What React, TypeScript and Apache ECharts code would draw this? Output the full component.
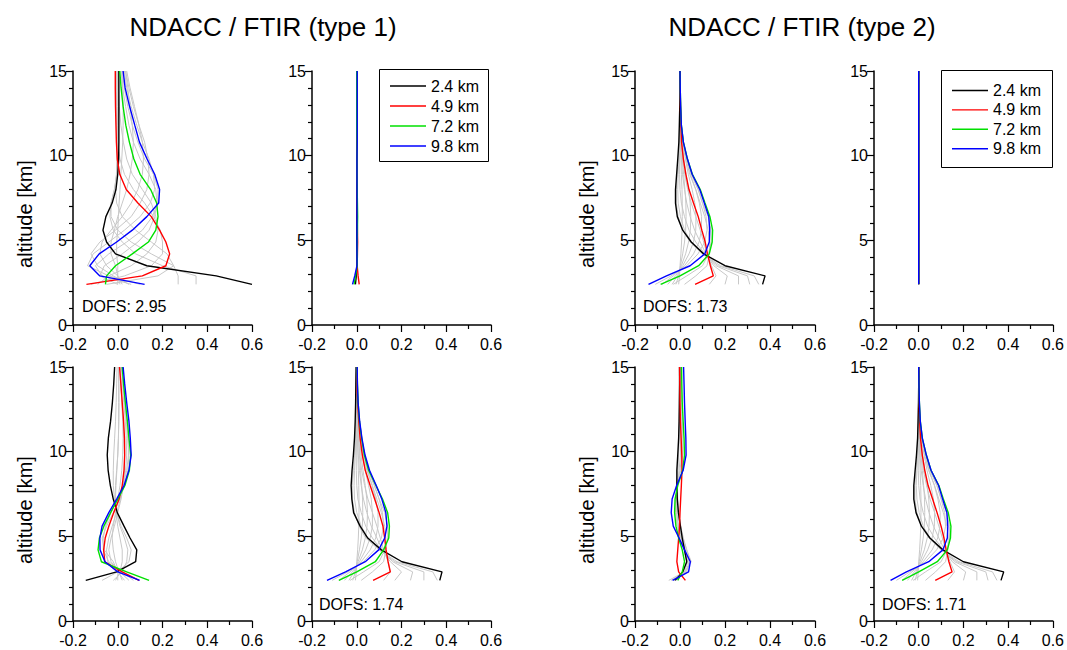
import React, { useEffect, useRef } from "react";
import * as echarts from "echarts";

// ---------- data ----------
const ALT = [2.4, 2.9, 3.5, 4.2, 4.9, 5.6, 6.4, 7.2, 8.0, 8.9, 9.8, 10.8, 11.8, 12.9, 14.0, 15.0];
const LEVELS = ["2.4 km", "4.9 km", "7.2 km", "9.8 km"];
const TITLES = ["NDACC / FTIR (type 1)", "NDACC / FTIR (type 2)"];
const Y_NAME = "altitude [km]";
const DOFS_A = "DOFS: 2.95";
const DOFS_D = "DOFS: 1.74";
const DOFS_E = "DOFS: 1.73";
const DOFS_H = "DOFS: 1.71";

// Panel A: type 1, top, left
const A_K24 = [0.6, 0.44, 0.13, -0.01, -0.05, -0.066, -0.053, -0.025, -0.008, 0.0, 0.004, 0.005, 0.005, 0.005, 0.005, 0.005];
const A_K49 = [-0.14, 0.11, 0.215, 0.232, 0.215, 0.187, 0.15, 0.09, 0.038, 0.009, -0.002, -0.006, -0.008, -0.01, -0.011, -0.011];
const A_K72 = [-0.055, -0.05, -0.01, 0.065, 0.137, 0.17, 0.18, 0.174, 0.147, 0.1, 0.072, 0.052, 0.036, 0.024, 0.015, 0.009];
const A_K98 = [0.12, -0.08, -0.125, -0.083, -0.005, 0.065, 0.13, 0.183, 0.187, 0.165, 0.131, 0.097, 0.076, 0.053, 0.033, 0.024];
const A_GRAY = [
  [0.35, 0.35, 0.2, 0.08, 0.02, -0.02, -0.035, -0.03, -0.015, -0.005, 0.0, 0.002, 0.003, 0.003, 0.003, 0.003],
  [0.27, 0.27, 0.25, 0.15, 0.06, 0.0, -0.03, -0.03, -0.015, -0.004, 0.0, 0.0, -0.001, -0.002, -0.002, -0.002],
  [-0.05, 0.18, 0.25, 0.22, 0.15, 0.08, 0.02, -0.005, -0.01, -0.006, -0.004, -0.005, -0.006, -0.007, -0.008, -0.008],
  [-0.12, 0.03, 0.15, 0.2, 0.2, 0.19, 0.16, 0.12, 0.07, 0.03, 0.01, 0.0, -0.003, -0.005, -0.006, -0.006],
  [-0.09, -0.04, 0.06, 0.13, 0.17, 0.18, 0.17, 0.15, 0.11, 0.065, 0.04, 0.025, 0.014, 0.007, 0.003, 0.002],
  [0.0, -0.08, -0.06, 0.02, 0.09, 0.14, 0.165, 0.175, 0.17, 0.14, 0.1, 0.07, 0.05, 0.035, 0.022, 0.015],
  [0.06, -0.07, -0.1, -0.04, 0.04, 0.11, 0.155, 0.178, 0.18, 0.16, 0.12, 0.09, 0.065, 0.045, 0.029, 0.02],
  [0.1, -0.04, -0.135, -0.11, -0.04, 0.03, 0.1, 0.145, 0.165, 0.16, 0.14, 0.11, 0.085, 0.06, 0.04, 0.03],
  [0.05, -0.02, -0.09, -0.12, -0.08, -0.01, 0.06, 0.1, 0.13, 0.14, 0.135, 0.12, 0.095, 0.07, 0.05, 0.035],
  [0.02, 0.0, -0.05, -0.08, -0.07, -0.03, 0.02, 0.06, 0.09, 0.11, 0.115, 0.11, 0.095, 0.075, 0.055, 0.04],
  [0.01, 0.0, -0.01, -0.03, -0.03, -0.015, 0.0, 0.02, 0.04, 0.055, 0.065, 0.07, 0.065, 0.055, 0.045, 0.035],
  [0.0, 0.0, 0.0, -0.005, -0.005, 0.0, 0.003, 0.006, 0.01, 0.014, 0.018, 0.022, 0.024, 0.024, 0.022, 0.02],
];

// Panel B: type 1, top, right
const B_K24 = [-0.006, -0.002, 0.001, 0.001, 0.0, 0.0, 0.0, 0.0, 0.0, 0.0, 0.0, 0.0, 0.0, 0.0, 0.0, 0.0];
const B_K49 = [0.011, 0.006, 0.002, 0.003, 0.004, 0.003, 0.002, 0.001, 0.001, 0.0, 0.0, 0.0, 0.0, 0.0, 0.0, 0.0];
const B_K72 = [-0.012, -0.005, 0.002, 0.002, 0.002, 0.003, 0.004, 0.003, 0.002, 0.001, 0.001, 0.001, 0.0, 0.0, 0.0, 0.0];
const B_K98 = [-0.019, -0.009, 0.001, 0.001, 0.001, 0.001, 0.001, 0.001, 0.001, 0.001, 0.001, 0.002, 0.002, 0.002, 0.002, 0.002];
const B_GRAY: number[][] = [];

// Panel C: type 1, bottom, left
const C_K24 = [-0.143, -0.005, 0.08, 0.085, 0.055, 0.028, -0.002, -0.02, -0.033, -0.043, -0.047, -0.042, -0.032, -0.024, -0.018, -0.014];
const C_K49 = [0.095, 0.02, -0.058, -0.063, -0.056, -0.04, -0.018, 0.006, 0.02, 0.028, 0.031, 0.03, 0.026, 0.02, 0.014, 0.008];
const C_K72 = [0.14, 0.04, -0.073, -0.088, -0.082, -0.062, -0.032, 0.0, 0.032, 0.052, 0.058, 0.05, 0.043, 0.034, 0.026, 0.02];
const C_K98 = [0.098, 0.0, -0.057, -0.079, -0.08, -0.07, -0.04, -0.005, 0.028, 0.05, 0.06, 0.056, 0.05, 0.04, 0.031, 0.024];
const C_GRAY = [
  [0.05, 0.01, -0.03, -0.04, -0.03, -0.015, 0.0, 0.015, 0.025, 0.03, 0.03, 0.028, 0.024, 0.019, 0.014, 0.01],
  [-0.02, 0.02, 0.04, 0.045, 0.03, 0.01, -0.005, -0.015, -0.02, -0.02, -0.018, -0.014, -0.01, -0.007, -0.005, -0.003],
  [0.0, 0.0, -0.02, -0.06, -0.07, -0.05, -0.02, 0.01, 0.03, 0.045, 0.05, 0.045, 0.038, 0.03, 0.024, 0.018],
  [-0.07, 0.0, 0.05, 0.06, 0.04, 0.015, -0.005, -0.012, -0.01, -0.005, 0.0, 0.003, 0.004, 0.004, 0.004, 0.003],
  [0.03, 0.0, -0.045, -0.05, -0.04, -0.025, -0.005, 0.012, 0.024, 0.035, 0.04, 0.038, 0.034, 0.027, 0.021, 0.016],
  [0.02, 0.005, -0.01, -0.02, -0.025, -0.02, -0.01, 0.0, 0.01, 0.018, 0.022, 0.024, 0.022, 0.018, 0.014, 0.01],
  [-0.01, 0.01, 0.02, 0.02, 0.01, 0.0, -0.008, -0.01, -0.008, -0.004, 0.0, 0.003, 0.005, 0.006, 0.005, 0.004],
  [0.07, 0.02, -0.04, -0.065, -0.065, -0.055, -0.03, 0.0, 0.025, 0.04, 0.048, 0.046, 0.04, 0.032, 0.025, 0.019],
];

// Panel D: type 1, bottom, right
const D_K24 = [0.371, 0.381, 0.202, 0.11, 0.049, 0.015, -0.014, -0.022, -0.025, -0.021, -0.015, -0.01, -0.007, -0.005, -0.004, -0.003];
const D_K49 = [0.073, 0.15, 0.14, 0.131, 0.125, 0.117, 0.1, 0.08, 0.06, 0.038, 0.025, 0.015, 0.009, 0.004, 0.001, 0.0];
const D_K72 = [-0.08, 0.0, 0.083, 0.12, 0.143, 0.146, 0.138, 0.115, 0.086, 0.053, 0.034, 0.022, 0.012, 0.006, 0.003, 0.001];
const D_K98 = [-0.133, -0.05, 0.038, 0.098, 0.125, 0.135, 0.13, 0.112, 0.087, 0.057, 0.037, 0.023, 0.013, 0.006, 0.003, 0.002];
const D_GRAY = [
  [0.36, 0.34, 0.18, 0.1, 0.04, 0.01, -0.01, -0.02, -0.02, -0.015, -0.01, -0.007, -0.005, -0.003, -0.002, -0.001],
  [0.3, 0.3, 0.17, 0.1, 0.05, 0.02, 0.0, -0.01, -0.012, -0.01, -0.007, -0.005, -0.003, -0.002, -0.001, 0.0],
  [0.24, 0.25, 0.16, 0.11, 0.07, 0.04, 0.02, 0.005, 0.0, -0.002, -0.002, -0.001, 0.0, 0.0, 0.0, 0.0],
  [0.17, 0.2, 0.15, 0.115, 0.09, 0.065, 0.045, 0.03, 0.02, 0.012, 0.007, 0.004, 0.002, 0.001, 0.0, 0.0],
  [0.12, 0.15, 0.14, 0.12, 0.105, 0.09, 0.07, 0.05, 0.035, 0.022, 0.014, 0.008, 0.004, 0.002, 0.001, 0.0],
  [0.02, 0.07, 0.12, 0.13, 0.13, 0.125, 0.11, 0.09, 0.07, 0.045, 0.03, 0.018, 0.01, 0.005, 0.002, 0.001],
  [-0.03, 0.03, 0.1, 0.125, 0.138, 0.138, 0.125, 0.1, 0.078, 0.05, 0.032, 0.02, 0.011, 0.005, 0.002, 0.001],
  [-0.11, -0.04, 0.03, 0.08, 0.11, 0.12, 0.115, 0.1, 0.08, 0.055, 0.035, 0.022, 0.012, 0.006, 0.003, 0.001],
  [-0.08, -0.03, 0.02, 0.06, 0.085, 0.095, 0.095, 0.085, 0.068, 0.048, 0.032, 0.02, 0.011, 0.005, 0.002, 0.001],
  [-0.055, -0.02, 0.012, 0.04, 0.06, 0.07, 0.07, 0.065, 0.053, 0.038, 0.026, 0.016, 0.009, 0.004, 0.002, 0.001],
  [-0.035, -0.012, 0.006, 0.025, 0.038, 0.046, 0.048, 0.045, 0.038, 0.028, 0.019, 0.012, 0.007, 0.003, 0.001, 0.0],
  [-0.018, -0.006, 0.002, 0.012, 0.02, 0.025, 0.027, 0.026, 0.022, 0.017, 0.012, 0.008, 0.004, 0.002, 0.001, 0.0],
  [-0.006, -0.002, 0.0, 0.004, 0.007, 0.009, 0.01, 0.01, 0.009, 0.007, 0.005, 0.003, 0.002, 0.001, 0.0, 0.0],
];

// Panel E: type 2, top, left
const E_K24 = [0.367, 0.378, 0.2, 0.105, 0.05, 0.012, -0.012, -0.02, -0.02, -0.015, -0.01, -0.005, -0.003, -0.001, 0.0, 0.0];
const E_K49 = [0.067, 0.148, 0.135, 0.122, 0.112, 0.097, 0.081, 0.06, 0.04, 0.026, 0.015, 0.007, 0.004, 0.002, 0.001, 0.0];
const E_K72 = [-0.086, 0.0, 0.083, 0.13, 0.143, 0.145, 0.133, 0.111, 0.09, 0.055, 0.033, 0.015, 0.006, 0.003, 0.001, 0.0];
const E_K98 = [-0.14, -0.06, 0.045, 0.11, 0.13, 0.132, 0.128, 0.108, 0.088, 0.054, 0.033, 0.015, 0.006, 0.003, 0.001, 0.0];
const E_GRAY = [
  [0.35, 0.33, 0.18, 0.1, 0.045, 0.012, -0.008, -0.016, -0.016, -0.012, -0.008, -0.004, -0.002, -0.001, 0.0, 0.0],
  [0.31, 0.3, 0.17, 0.1, 0.05, 0.02, 0.002, -0.008, -0.01, -0.008, -0.005, -0.003, -0.001, 0.0, 0.0, 0.0],
  [0.26, 0.26, 0.16, 0.11, 0.07, 0.04, 0.02, 0.006, 0.0, -0.002, -0.002, -0.001, 0.0, 0.0, 0.0, 0.0],
  [0.2, 0.21, 0.15, 0.115, 0.09, 0.065, 0.045, 0.03, 0.02, 0.011, 0.006, 0.003, 0.001, 0.0, 0.0, 0.0],
  [0.13, 0.16, 0.14, 0.12, 0.105, 0.09, 0.07, 0.05, 0.034, 0.021, 0.012, 0.006, 0.003, 0.001, 0.0, 0.0],
  [0.02, 0.07, 0.12, 0.13, 0.132, 0.125, 0.11, 0.09, 0.07, 0.043, 0.027, 0.013, 0.006, 0.002, 0.001, 0.0],
  [-0.03, 0.03, 0.1, 0.127, 0.138, 0.138, 0.125, 0.1, 0.08, 0.05, 0.03, 0.014, 0.006, 0.002, 0.001, 0.0],
  [-0.11, -0.04, 0.03, 0.08, 0.11, 0.12, 0.116, 0.1, 0.082, 0.052, 0.032, 0.015, 0.006, 0.003, 0.001, 0.0],
  [-0.08, -0.03, 0.02, 0.06, 0.085, 0.095, 0.096, 0.086, 0.07, 0.046, 0.029, 0.014, 0.006, 0.003, 0.001, 0.0],
  [-0.055, -0.02, 0.012, 0.04, 0.06, 0.07, 0.071, 0.066, 0.054, 0.037, 0.024, 0.012, 0.005, 0.002, 0.001, 0.0],
  [-0.035, -0.012, 0.006, 0.025, 0.038, 0.046, 0.048, 0.045, 0.038, 0.027, 0.017, 0.009, 0.004, 0.002, 0.001, 0.0],
  [-0.018, -0.006, 0.002, 0.012, 0.02, 0.025, 0.027, 0.026, 0.022, 0.016, 0.01, 0.005, 0.002, 0.001, 0.0, 0.0],
  [-0.006, -0.002, 0.0, 0.004, 0.007, 0.009, 0.01, 0.01, 0.009, 0.006, 0.004, 0.002, 0.001, 0.0, 0.0, 0.0],
];

// Panel F: type 2, top, right
const F_K24 = [0.0, 0.0, 0.0, 0.0, 0.0, 0.0, 0.0, 0.0, 0.0, 0.0, 0.0, 0.0, 0.0, 0.0, 0.0, 0.0];
const F_K49 = [0.0, 0.0, 0.0, 0.0, 0.0, 0.0005, 0.001, 0.001, 0.0005, 0.0, 0.0, 0.0, 0.0, 0.0, 0.0, 0.0];
const F_K72 = [0.0, 0.0, 0.0, 0.0, 0.0, 0.0, 0.0005, 0.0005, 0.0, 0.0, 0.0, 0.0, 0.0, 0.0, 0.0, 0.0];
const F_K98 = [0.0, 0.0, 0.0, 0.0, 0.0, 0.0, 0.0, 0.0, 0.0, 0.0, 0.0, 0.0, 0.0, 0.0, 0.0, 0.0];
const F_GRAY: number[][] = [];

// Panel G: type 2, bottom, left
const G_K24 = [-0.022, 0.012, 0.03, 0.02, 0.01, 0.002, -0.007, -0.012, -0.014, -0.014, -0.01, -0.006, -0.004, -0.003, -0.002, -0.002];
const G_K49 = [0.024, -0.006, -0.014, -0.01, -0.006, -0.002, 0.0, 0.003, 0.006, 0.009, 0.008, 0.005, 0.002, 0.0, -0.001, -0.002];
const G_K72 = [-0.01, 0.01, 0.02, 0.01, -0.006, -0.018, -0.024, -0.022, -0.01, 0.012, 0.02, 0.018, 0.014, 0.01, 0.008, 0.007];
const G_K98 = [-0.033, 0.038, 0.046, 0.02, -0.004, -0.03, -0.039, -0.035, -0.015, 0.014, 0.027, 0.026, 0.023, 0.02, 0.018, 0.016];
const G_GRAY = [
  [-0.05, 0.02, 0.05, 0.03, 0.012, 0.0, -0.01, -0.014, -0.014, -0.01, -0.006, -0.004, -0.003, -0.002, -0.002, -0.001],
  [-0.04, 0.025, 0.045, 0.03, 0.015, 0.003, -0.006, -0.01, -0.012, -0.01, -0.007, -0.005, -0.003, -0.002, -0.002, -0.001],
  [-0.025, 0.03, 0.04, 0.025, 0.008, -0.006, -0.014, -0.016, -0.012, -0.004, 0.002, 0.003, 0.002, 0.001, 0.0, 0.0],
  [-0.015, 0.02, 0.035, 0.022, 0.004, -0.012, -0.02, -0.02, -0.012, 0.004, 0.012, 0.012, 0.01, 0.007, 0.005, 0.004],
  [-0.03, 0.015, 0.03, 0.018, 0.005, -0.008, -0.016, -0.018, -0.013, 0.0, 0.008, 0.009, 0.008, 0.006, 0.004, 0.003],
];

// Panel H: type 2, bottom, right
const H_K24 = [0.368, 0.38, 0.2, 0.108, 0.05, 0.012, -0.012, -0.022, -0.022, -0.016, -0.01, -0.005, -0.003, -0.001, 0.0, 0.0];
const H_K49 = [0.074, 0.149, 0.135, 0.123, 0.113, 0.1, 0.082, 0.062, 0.042, 0.027, 0.016, 0.008, 0.004, 0.002, 0.001, 0.0];
const H_K72 = [-0.074, 0.0, 0.083, 0.128, 0.142, 0.144, 0.132, 0.11, 0.09, 0.055, 0.034, 0.016, 0.007, 0.003, 0.001, 0.0];
const H_K98 = [-0.126, -0.055, 0.045, 0.108, 0.128, 0.13, 0.126, 0.107, 0.089, 0.055, 0.034, 0.016, 0.007, 0.003, 0.001, 0.0];
const H_GRAY = [
  [0.35, 0.33, 0.18, 0.1, 0.045, 0.012, -0.008, -0.017, -0.017, -0.012, -0.008, -0.004, -0.002, -0.001, 0.0, 0.0],
  [0.31, 0.3, 0.17, 0.1, 0.05, 0.02, 0.002, -0.008, -0.011, -0.008, -0.005, -0.003, -0.001, 0.0, 0.0, 0.0],
  [0.26, 0.26, 0.16, 0.11, 0.07, 0.04, 0.02, 0.006, 0.0, -0.002, -0.002, -0.001, 0.0, 0.0, 0.0, 0.0],
  [0.2, 0.21, 0.15, 0.115, 0.09, 0.066, 0.046, 0.031, 0.02, 0.011, 0.006, 0.003, 0.001, 0.0, 0.0, 0.0],
  [0.13, 0.16, 0.14, 0.12, 0.106, 0.09, 0.071, 0.051, 0.035, 0.021, 0.012, 0.006, 0.003, 0.001, 0.0, 0.0],
  [0.03, 0.075, 0.12, 0.13, 0.132, 0.126, 0.11, 0.09, 0.071, 0.044, 0.027, 0.013, 0.006, 0.002, 0.001, 0.0],
  [-0.025, 0.03, 0.1, 0.127, 0.138, 0.138, 0.125, 0.101, 0.081, 0.05, 0.031, 0.014, 0.006, 0.002, 0.001, 0.0],
  [-0.1, -0.04, 0.03, 0.08, 0.11, 0.12, 0.116, 0.1, 0.082, 0.052, 0.032, 0.015, 0.006, 0.003, 0.001, 0.0],
  [-0.075, -0.03, 0.02, 0.06, 0.085, 0.095, 0.096, 0.086, 0.07, 0.046, 0.029, 0.014, 0.006, 0.003, 0.001, 0.0],
  [-0.05, -0.02, 0.012, 0.04, 0.06, 0.07, 0.071, 0.066, 0.054, 0.037, 0.024, 0.012, 0.005, 0.002, 0.001, 0.0],
  [-0.032, -0.012, 0.006, 0.025, 0.038, 0.046, 0.048, 0.045, 0.038, 0.027, 0.017, 0.009, 0.004, 0.002, 0.001, 0.0],
  [-0.016, -0.006, 0.002, 0.012, 0.02, 0.025, 0.027, 0.026, 0.022, 0.016, 0.01, 0.005, 0.002, 0.001, 0.0, 0.0],
  [-0.005, -0.002, 0.0, 0.004, 0.007, 0.009, 0.01, 0.01, 0.009, 0.006, 0.004, 0.002, 0.001, 0.0, 0.0, 0.0],
];

const PANELS = [
  { k: [A_K24, A_K49, A_K72, A_K98], gray: A_GRAY },
  { k: [B_K24, B_K49, B_K72, B_K98], gray: B_GRAY },
  { k: [C_K24, C_K49, C_K72, C_K98], gray: C_GRAY },
  { k: [D_K24, D_K49, D_K72, D_K98], gray: D_GRAY },
  { k: [E_K24, E_K49, E_K72, E_K98], gray: E_GRAY },
  { k: [F_K24, F_K49, F_K72, F_K98], gray: F_GRAY },
  { k: [G_K24, G_K49, G_K72, G_K98], gray: G_GRAY },
  { k: [H_K24, H_K49, H_K72, H_K98], gray: H_GRAY },
];

// ---------- layout / style ----------
const FONT = "'Liberation Sans', Arial, Helvetica, sans-serif";
const COLORS = ["#000000", "#ff0000", "#00e000", "#0000ff"];
const GRAY = "#c8c8c8";
const TOP1 = 71;
const TOP2 = 367;
const PH = 254;
const LAYOUT = [
  { left: 73, top: TOP1, width: 179 },
  { left: 312, top: TOP1, width: 179 },
  { left: 73, top: TOP2, width: 179 },
  { left: 312, top: TOP2, width: 179 },
  { left: 635, top: TOP1, width: 180 },
  { left: 874, top: TOP1, width: 180 },
  { left: 635, top: TOP2, width: 180 },
  { left: 874, top: TOP2, width: 180 },
];

function buildOption() {
  const grid: any[] = [];
  const xAxis: any[] = [];
  const yAxis: any[] = [];
  const series: any[] = [];
  const axisLine = { show: true, onZero: false, lineStyle: { color: "#000", width: 1.5 } };
  PANELS.forEach((p, i) => {
    const L = LAYOUT[i];
    grid.push({ left: L.left, top: L.top, width: L.width, height: PH, containLabel: false });
    xAxis.push({
      type: "value",
      gridIndex: i,
      min: -0.2,
      max: 0.6,
      interval: 0.2,
      axisLine,
      axisTick: { show: true, inside: false, length: 7, lineStyle: { color: "#000", width: 1.2 } },
      minorTick: { show: true, splitNumber: 2, length: 4, lineStyle: { color: "#000", width: 1.2 } },
      splitLine: { show: false },
      minorSplitLine: { show: false },
      axisLabel: {
        color: "#000",
        fontSize: 16,
        fontFamily: FONT,
        margin: 11,
        formatter: (v: number) => v.toFixed(1),
      },
    });
    yAxis.push({
      type: "value",
      gridIndex: i,
      min: 0,
      max: 15,
      interval: 5,
      axisLine,
      axisTick: { show: true, inside: false, length: 7, lineStyle: { color: "#000", width: 1.2 } },
      minorTick: { show: true, splitNumber: 5, length: 4, lineStyle: { color: "#000", width: 1.2 } },
      splitLine: { show: false },
      minorSplitLine: { show: false },
      axisLabel: { color: "#000", fontSize: 16, fontFamily: FONT, margin: 6 },
    });
    p.gray.forEach((g) => {
      series.push({
        type: "line",
        xAxisIndex: i,
        yAxisIndex: i,
        data: ALT.map((a, j) => [g[j], a]),
        symbol: "none",
        showSymbol: false,
        silent: true,
        clip: true,
        lineStyle: { color: GRAY, width: 1 },
        z: 2,
      });
    });
    p.k.forEach((arr, c) => {
      series.push({
        name: LEVELS[c],
        type: "line",
        xAxisIndex: i,
        yAxisIndex: i,
        data: ALT.map((a, j) => [arr[j], a]),
        symbol: "none",
        showSymbol: false,
        silent: true,
        clip: true,
        lineStyle: { color: COLORS[c], width: 1.4 },
        z: 3,
      });
    });
  });

  const graphic: any[] = [];
  const txt = (text: string, x: number, y: number, size: number, extra: any = {}) => ({
    type: "text",
    x,
    y,
    ...extra,
    style: {
      text,
      fill: "#000",
      fontSize: size,
      fontFamily: FONT,
      align: extra.align || "left",
      verticalAlign: "middle",
    },
  });
  graphic.push(txt(TITLES[0], 263, 27, 26, { align: "center" }));
  graphic.push(txt(TITLES[1], 802, 27, 26, { align: "center" }));
  [[0, TOP1], [2, TOP2], [4, TOP1], [6, TOP2]].forEach(([pi, top]) => {
    const L = LAYOUT[pi];
    graphic.push({
      type: "text",
      x: L.left - 48,
      y: top + PH / 2 + 16,
      rotation: Math.PI / 2,
      style: {
        text: Y_NAME,
        fill: "#000",
        fontSize: 20,
        fontFamily: FONT,
        align: "center",
        verticalAlign: "middle",
      },
    });
  });
  graphic.push(txt(DOFS_A, 82, 306, 16));
  graphic.push(txt(DOFS_D, 319, 604, 16));
  graphic.push(txt(DOFS_E, 643, 306, 16));
  graphic.push(txt(DOFS_H, 882, 604, 16));

  const legendAt = (bx: number, by: number, bw: number, bh: number, lx: number, ly: number, gap: number) => {
    graphic.push({
      type: "rect",
      shape: { x: bx, y: by, width: bw, height: bh },
      style: { fill: "#fff", stroke: "#000", lineWidth: 1 },
      z: 10,
    });
    LEVELS.forEach((name, c) => {
      const yy = ly + c * gap;
      graphic.push({
        type: "line",
        shape: { x1: lx, y1: yy, x2: lx + 36, y2: yy },
        style: { stroke: COLORS[c], lineWidth: 1.4 },
        z: 11,
      });
      graphic.push({ ...txt(name, lx + 41, yy, 16), z: 11 });
    });
  };
  legendAt(379.5, 69.5, 109, 92, 390, 86, 20);
  legendAt(941.5, 70.5, 111, 97, 952, 90.5, 19.4);

  return {
    animation: false,
    backgroundColor: "#ffffff",
    grid,
    xAxis,
    yAxis,
    series,
    graphic,
  };
}

export default function App() {
  const ref = useRef<HTMLDivElement>(null);
  useEffect(() => {
    if (!ref.current) return;
    const chart = echarts.init(ref.current, undefined, { renderer: "svg" });
    chart.setOption(buildOption() as any);
    return () => chart.dispose();
  }, []);
  return (
    <div
      ref={ref}
      style={{ position: "fixed", left: 0, top: 0, width: 1067, height: 650, background: "#fff" }}
    />
  );
}
